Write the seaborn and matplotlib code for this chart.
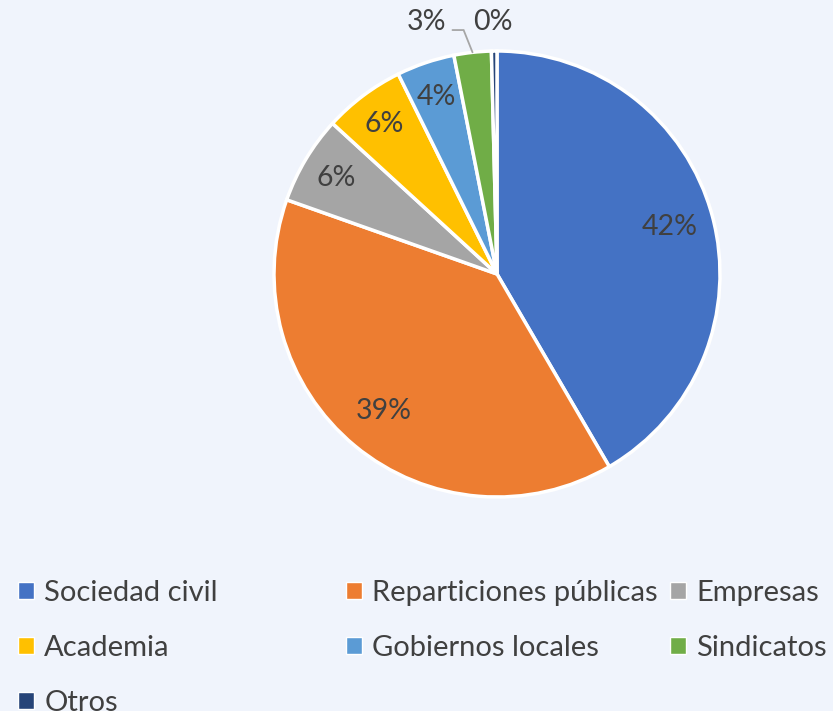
import matplotlib
matplotlib.use("Agg")
import matplotlib.pyplot as plt
import seaborn as sns
import numpy as np
from matplotlib.patches import Patch

categories = ["Sociedad civil", "Reparticiones públicas", "Empresas", "Academia",
              "Gobiernos locales", "Sindicatos", "Otros"]
values = [41.6, 38.8, 6.4, 5.9, 4.2, 2.7, 0.4]
colors_hex = ["#4472C4", "#ED7D31", "#A5A5A5", "#FFC000", "#5B9BD5", "#70AD47", "#264478"]

BG = "#F0F4FC"
TXT = "#404040"

sns.set_theme(style="white", rc={"figure.facecolor": BG, "axes.facecolor": BG,
                                 "savefig.facecolor": BG})
plt.rcParams["font.family"] = ["Lato", "DejaVu Sans"]
palette = sns.color_palette(colors_hex)

W, H = 833, 711
fig = plt.figure(figsize=(W / 100, H / 100), dpi=100)
cx, cy, r = 497, 274, 223
ax = fig.add_axes([(cx - r) / W, (H - cy - r) / H, 2 * r / W, 2 * r / H])

wedges, _ = ax.pie(values, colors=palette, startangle=90, counterclock=False,
                   radius=1.0, wedgeprops=dict(edgecolor="white", linewidth=2.5))
ax.set_xlim(-1, 1)
ax.set_ylim(-1, 1)
ax.set_aspect("equal")
ax.axis("off")

fs_lab = 20.5
fs_leg = 21
total = sum(values)
for w, v in zip(wedges, values):
    pct = f"{round(v / total * 100):.0f}%"
    ang = np.deg2rad((w.theta1 + w.theta2) / 2)
    if v >= 3.5:
        d = 0.8 if v > 20 else 0.84
        ax.text(d * np.cos(ang), d * np.sin(ang), pct, ha="center", va="center",
                fontsize=fs_lab, color=TXT)

# small slices labelled outside
w_s = wedges[5]
ang_s = np.deg2rad((w_s.theta1 + w_s.theta2) / 2)
ex, ey = np.cos(ang_s), np.sin(ang_s)
kx, ky = ex - 0.04, ey + 0.10
sx, sy = kx - 0.05, ky
ax.plot([sx, kx, ex], [sy, ky, ey], color="#A6A6A6", lw=1.3, clip_on=False,
        solid_joinstyle="miter")
ax.text(-0.314, 1.13, f"{round(values[5] / total * 100):.0f}%", ha="center", va="center",
        fontsize=fs_lab, color=TXT)
ax.text(-0.02, 1.13, f"{round(values[6] / total * 100):.0f}%", ha="center", va="center",
        fontsize=fs_lab, color=TXT)

handles = [Patch(facecolor=palette[i], edgecolor="white", linewidth=1) for i in range(len(categories))]
cols = [[0, 3, 6], [1, 4], [2, 5]]
xs = [18, 346, 670]
for col, x in zip(cols, xs):
    leg = fig.legend([handles[i] for i in col], [categories[i] for i in col],
                     loc="upper left", bbox_to_anchor=(x / W, 1 - 580 / H),
                     frameon=False, fontsize=fs_leg, handlelength=0.55, handleheight=0.55,
                     handletextpad=0.35, labelspacing=0.99, borderpad=0, borderaxespad=0)
    for t in leg.get_texts():
        t.set_color(TXT)

fig.savefig("out.png", dpi=100, facecolor=BG)
